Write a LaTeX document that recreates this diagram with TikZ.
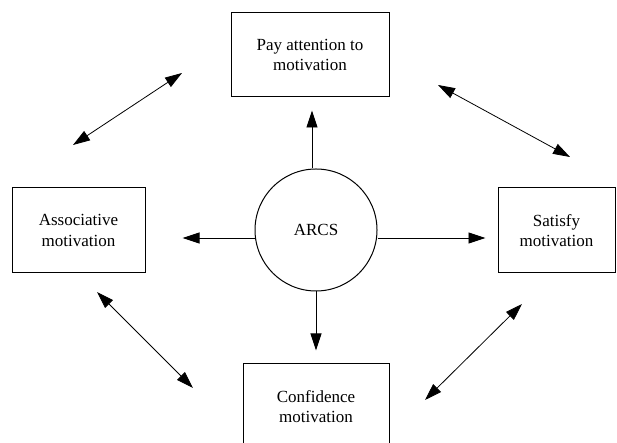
\documentclass[tikz,border=0pt]{standalone}
\usepackage{fontspec}
\setmainfont{Liberation Serif}
\usepackage{tikz}
\usetikzlibrary{positioning,arrows.meta}

\begin{document}
\begin{tikzpicture}[x=1pt,y=1pt]
                \tikzset{
                  bloc/.style={
                    draw,line width=1pt,align=center,
                    font=\fontsize{17}{20.5}\selectfont,text=black,
                    inner sep=0pt,
                  },
                  bloc rond/.style={bloc,circle,minimum size=122pt},
                  lien/.style={
                    -{Triangle[length=17pt,width=11pt]},line width=0.8pt,
                  },
                  double lien/.style={lien,{Triangle[length=17pt,width=11pt]}-{Triangle[length=17pt,width=11pt]}},
                  }
                \useasboundingbox (0,0) rectangle (617,443);
                \clip (0,0) rectangle (617,443);
                \node[bloc rond] (arcs) at (316,213) {ARCS};
                \node[bloc, minimum width=158pt, minimum height=84pt] (a) at (310,388) {Pay attention to\\motivation};
                \node[bloc, minimum width=133pt, minimum height=85pt] (r) at (78.5,212.5) {Associative\\motivation};
                \node[bloc, minimum width=117pt, minimum height=85pt] (s) at (556.5,212.5) {Satisfy\\motivation};
                \node[bloc, minimum width=146pt, minimum height=85pt] (c) at (316,36.5) {Confidence\\motivation};
                % free ends of the double arrows
                \coordinate (ar1) at (73,298);   \coordinate (ar2) at (182,370);
                \coordinate (as1) at (438,358);  \coordinate (as2) at (570,286);
                \coordinate (rc1) at (97,151);   \coordinate (rc2) at (193,55);
                \coordinate (sc1) at (522,139);  \coordinate (sc2) at (425,43);

                \draw[lien, shorten >=13pt]
                ([xshift=-4pt]arcs.north) -- ([xshift=2pt]a.south);
                \draw[lien, shorten >=37pt]
                ([yshift=-8pt]arcs.west) -- ([yshift=-7.5pt]r.east);
                \draw[lien, shorten >=12pt]
                ([yshift=-8pt]arcs.east) -- ([yshift=-7.5pt]s.west);
                \draw[lien, shorten >=13pt]
                (arcs.south) -- (c.north);

                \draw[double lien] (ar1) -- (ar2);
                \draw[double lien] (as1) -- (as2);
                \draw[double lien] (rc1) -- (rc2);
                \draw[double lien] (sc1) -- (sc2);
              \end{tikzpicture}
\end{document}
